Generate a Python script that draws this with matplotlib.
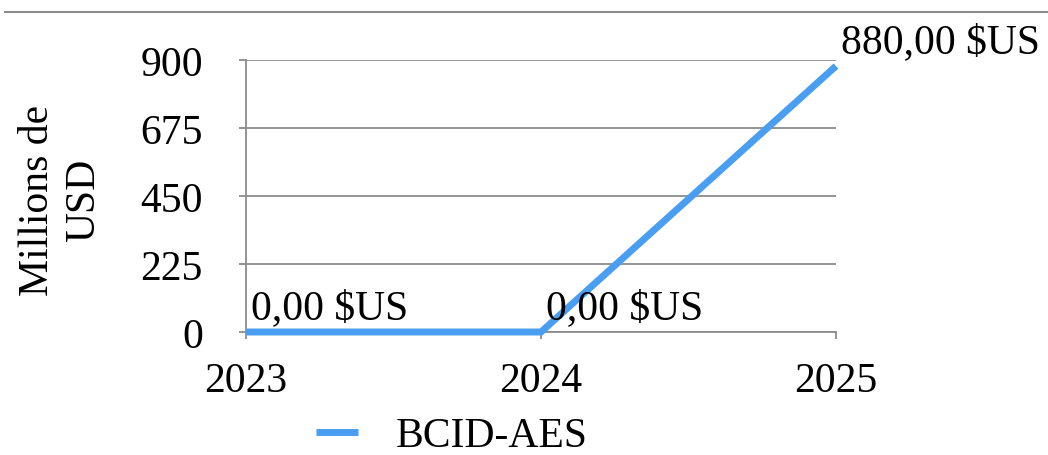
import matplotlib.pyplot as plt
from matplotlib.lines import Line2D

# data
years = ["2023", "2024", "2025"]
values = [0.0, 0.0, 880.0]
point_labels = ["0,00 $US", "0,00 $US", "880,00 $US"]
y_ticks = [0, 225, 450, 675, 900]
series_name = "BCID-AES"

plt.rcParams['font.family'] = ['Liberation Serif', 'DejaVu Serif']
grey = '#8c8c8c'
blue = '#4a9ef2'
FS = 30

fig = plt.figure(figsize=(10.48, 4.56), dpi=100)
ax = fig.add_axes([246/1048, 1 - 333/456, 590/1048, 272/456])

x = list(range(len(years)))
ax.plot(x, values, color=blue, lw=5, solid_capstyle='butt', solid_joinstyle='miter',
        label=series_name, clip_on=False, zorder=3)

for xi, v, lab in zip(x, values, point_labels):
    ax.annotate(lab, (xi, v), xytext=(5, 14), textcoords='offset pixels',
                ha='left', va='baseline', fontsize=FS, zorder=4)

ax.set_xlim(0, len(years) - 1)
ax.set_ylim(0, 900)
ax.set_xticks(x)
ax.set_xticklabels(years)
ax.set_yticks(y_ticks)
ax.grid(axis='y', color=grey, lw=1.3)
ax.set_axisbelow(True)

for s in ['top', 'right']:
    ax.spines[s].set_visible(False)
for s in ['left', 'bottom']:
    ax.spines[s].set_color(grey)
    ax.spines[s].set_linewidth(1.3)

ax.tick_params(axis='both', colors=grey, labelcolor='black', labelsize=FS, width=1.3, length=5)
ax.tick_params(axis='y', pad=26)
ax.tick_params(axis='x', pad=16)

fig.text(61/1048, 1 - 200/456, "Millions de\nUSD", rotation=90, ha='center', va='center',
         fontsize=FS, linespacing=1.25)

fig.legend(loc='center', bbox_to_anchor=(452/1048, 1 - 437/456), frameon=False,
           fontsize=FS, handlelength=1.0, handletextpad=0.9)

# thin rule across the top of the image
fig.add_artist(Line2D([5/1048, 1], [1 - 13/456, 1 - 13/456], color=grey, lw=1.5))

fig.savefig("out.png", dpi=100)
